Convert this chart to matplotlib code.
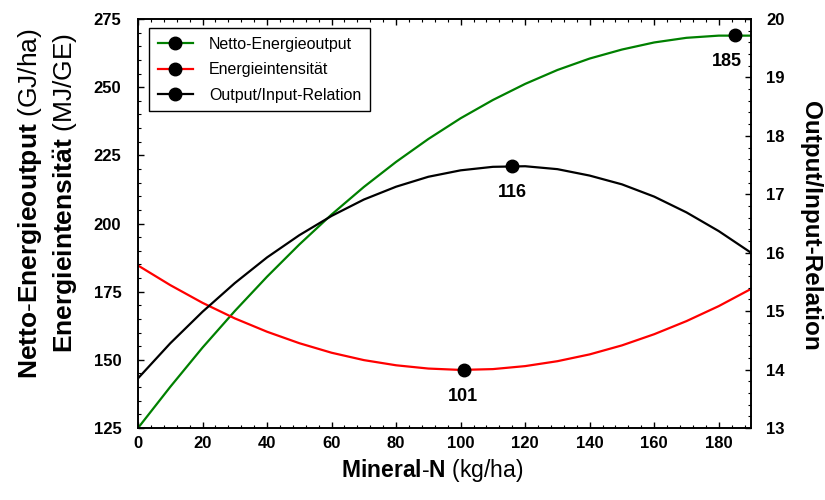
import matplotlib
matplotlib.use("Agg")
import matplotlib.pyplot as plt
from matplotlib.lines import Line2D
from matplotlib.ticker import MultipleLocator

plt.rcParams['font.family'] = ['Liberation Sans', 'DejaVu Sans']
plt.rcParams['mathtext.fontset'] = 'custom'
plt.rcParams['mathtext.rm'] = 'Liberation Sans'
plt.rcParams['mathtext.bf'] = 'Liberation Sans:bold'

# Mineral-N (kg/ha)
n_rate = [0, 10, 20, 30, 40, 50, 60, 70, 80, 90, 100,
          110, 120, 130, 140, 150, 160, 170, 180, 190]
# Netto-Energieoutput (GJ/ha), left axis
net_output = [125.0, 140.1, 154.5, 167.9, 180.5, 192.3, 203.3, 213.4, 222.6, 231.0, 238.6,
              245.3, 251.2, 256.3, 260.5, 263.8, 266.4, 268.1, 268.9, 268.9]
# Energieintensitaet (MJ/GE), left axis
intensity = [184.6, 177.4, 170.9, 165.2, 160.3, 156.1, 152.6, 149.9, 148.0, 146.8, 146.3,
             146.6, 147.7, 149.5, 152.0, 155.3, 159.4, 164.2, 169.7, 176.0]
# Output/Input-Relation, right axis
ratio = [13.85, 14.45, 14.99, 15.48, 15.92, 16.30, 16.63, 16.91, 17.13, 17.30, 17.41,
         17.47, 17.48, 17.43, 17.32, 17.17, 16.96, 16.69, 16.37, 16.00]

# optimum points (N, value) marked with dots
opt_output = (185, 269.0)
opt_intensity = (101, 146.3)
opt_ratio = (116, 17.48)

labels = ['Netto-Energieoutput', 'Energieintensität', 'Output/Input-Relation']
colors = ['#008000', '#ff0000', 'black']

fig = plt.figure(figsize=(8.25, 5.0), dpi=100)
ax1 = fig.add_axes([0.1673, 0.144, 0.743, 0.818])
ax2 = ax1.twinx()

ax1.plot(n_rate, net_output, color=colors[0], lw=1.6)
ax1.plot(n_rate, intensity, color=colors[1], lw=1.6)
ax2.plot(n_rate, ratio, color=colors[2], lw=1.6)

ax1.plot(*opt_output, 'o', color='black', ms=9)
ax1.plot(*opt_intensity, 'o', color='black', ms=9)
ax2.plot(*opt_ratio, 'o', color='black', ms=9)

ann = dict(textcoords='offset points', ha='center', va='center',
           fontsize=13, fontweight='bold')
ax1.annotate(str(opt_output[0]), opt_output, xytext=(-6, -19), **ann)
ax1.annotate(str(opt_intensity[0]), opt_intensity, xytext=(-1, -19), **ann)
ax2.annotate(str(opt_ratio[0]), opt_ratio, xytext=(0, -19), **ann)

ax1.set_xlim(0, 190)
ax1.set_ylim(125, 275)
ax2.set_ylim(13, 20)

ax1.xaxis.set_major_locator(MultipleLocator(20))
ax1.xaxis.set_minor_locator(MultipleLocator(4))
ax1.yaxis.set_major_locator(MultipleLocator(25))
ax1.yaxis.set_minor_locator(MultipleLocator(5))
ax2.yaxis.set_major_locator(MultipleLocator(1))
ax2.yaxis.set_minor_locator(MultipleLocator(0.2))

ax1.tick_params(axis='both', which='both', direction='in', top=True, right=False)
ax1.tick_params(which='major', length=4.5, width=1)
ax1.tick_params(which='minor', length=2.5, width=0.8)
ax1.tick_params(axis='y', pad=12)
ax1.tick_params(axis='x', pad=6)
ax2.tick_params(axis='y', which='both', direction='in')
ax2.tick_params(which='major', length=4.5, width=1, pad=11)
ax2.tick_params(which='minor', length=2.5, width=0.8)

for ax in (ax1, ax2):
    for lab in ax.get_xticklabels() + ax.get_yticklabels():
        lab.set_fontsize(12)
        lab.set_fontweight('bold')
    for sp in ax.spines.values():
        sp.set_linewidth(1.2)

fig.text(0.036, 0.592, r'$\mathbf{Netto}$-$\mathbf{Energieoutput}$ (GJ/ha)',
         rotation=90, fontsize=19, ha='center', va='center')
fig.text(0.080, 0.614, r'$\mathbf{Energieintensit\"at}$ (MJ/GE)',
         rotation=90, fontsize=19, ha='center', va='center')
fig.text(0.524, 0.058, r'$\mathbf{Mineral}$-$\mathbf{N}$ (kg/ha)',
         fontsize=16.5, ha='center', va='center')
fig.text(0.982, 0.548, 'Output/Input-Relation', rotation=270,
         fontsize=17.5, fontweight='bold', ha='center', va='center')

handles = [Line2D([], [], color=c, lw=1.6, marker='o', ms=9,
                  mfc='black', mec='black') for c in colors]
leg = ax2.legend(handles, labels, loc='upper left', bbox_to_anchor=(0.018, 0.978),
                 borderaxespad=0, fontsize=11.5, handlelength=2.2, handletextpad=1.0,
                 labelspacing=0.65, borderpad=0.55, fancybox=False, framealpha=1,
                 edgecolor='black')
leg.get_frame().set_linewidth(1.0)

fig.savefig('out.png', dpi=100)
